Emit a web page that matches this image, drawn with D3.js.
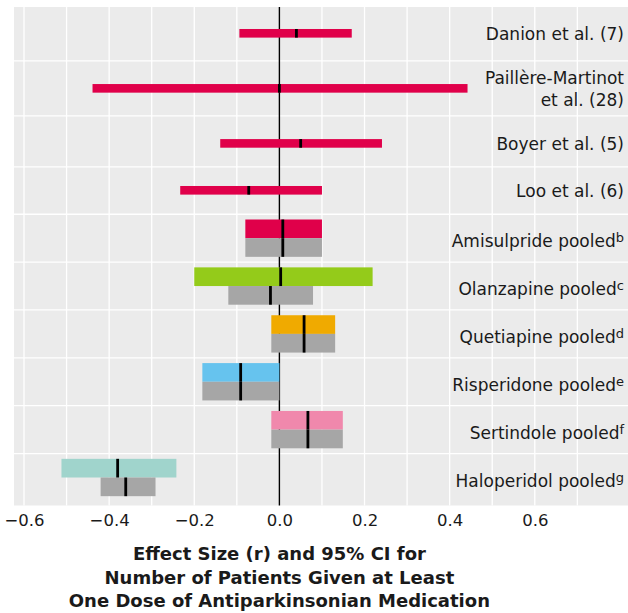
<!DOCTYPE html>
<html lang="en">
<head>
    <meta charset="UTF-8" />
    <title>Antiparkinsonian medication effect sizes</title>
    <script src="https://d3js.org/d3.v7.min.js"></script>
    <style>
        body {
            margin: 0;
            background: #ffffff;
        }

        svg text {
            font-family: "DejaVu Sans", sans-serif;
            fill: #1a1a1a;
        }

        .title text {
            font-weight: bold;
        }
    </style>
</head>
<body>
    <svg id="chart" width="628" height="613"></svg>
    <script>
        // Individual amisulpride studies
        var studyNames = [["Danion et al. (7)"], ["Paillère-Martinot", "et al. (28)"], ["Boyer et al. (5)"], ["Loo et al. (6)"]];
        var studyEffect = [0.040, 0.000, 0.050, -0.072];
        var studyLow = [-0.094, -0.439, -0.139, -0.233];
        var studyHigh = [0.170, 0.442, 0.241, 0.100];

        // Pooled drugs (coloured bar) and their comparison (grey bar)
        var drugNames = ["Amisulpride pooled", "Olanzapine pooled", "Quetiapine pooled", "Risperidone pooled", "Sertindole pooled", "Haloperidol pooled"];
        var drugNotes = ["b", "c", "d", "e", "f", "g"];
        var drugEffect = [0.008, 0.003, 0.058, -0.091, 0.067, -0.380];
        var drugLow = [-0.080, -0.200, -0.019, -0.181, -0.019, -0.512];
        var drugHigh = [0.100, 0.219, 0.131, 0.000, 0.149, -0.242];
        var compEffect = [0.008, -0.021, 0.058, -0.091, 0.067, -0.361];
        var compLow = [-0.080, -0.120, -0.019, -0.181, -0.019, -0.420];
        var compHigh = [0.100, 0.079, 0.131, 0.000, 0.149, -0.291];
        var drugColors = ["#e0004a", "#94cb1a", "#f0aa00", "#66c3ee", "#f088ac", "#a0d4cc"];

        var xTicks = [-0.6, -0.4, -0.2, 0.0, 0.2, 0.4, 0.6];
        var xMinor = [-0.5, -0.3, -0.1, 0.1, 0.3, 0.5, 0.7];
        var titleLines = ["Effect Size (r) and 95% CI for", "Number of Patients Given at Least", "One Dose of Antiparkinsonian Medication"];

        var w = 628;
        var panel = { left: 14, right: 628, top: 7, bottom: 505.5 };

        // rows with two-line labels get a little more room
        var rowGap = [1.15, 1.15, 0.98, 1, 1, 1, 1, 1, 1];
        var rowPos = [0];
        rowGap.forEach(function (g, i) { rowPos.push(rowPos[i] + g); });

        var svg = d3.select("#chart");

        var xScale = d3.scaleLinear()
            .domain([-0.6235, 0.819])
            .range([panel.left, panel.right]);

        var yScale = d3.scaleLinear()
            .domain([0, rowPos[rowPos.length - 1]])
            .range([33.3, 477.5]);

        var unit = yScale(1) - yScale(0);

        // Panel background
        svg.append("rect")
            .attr("x", panel.left)
            .attr("y", panel.top)
            .attr("width", panel.right - panel.left)
            .attr("height", panel.bottom - panel.top)
            .attr("fill", "#ebebeb");

        // Vertical gridlines
        svg.selectAll("line.vgrid")
            .data(xTicks.concat(xMinor))
            .enter()
            .append("line")
            .attr("class", "vgrid")
            .attr("x1", d => xScale(d))
            .attr("x2", d => xScale(d))
            .attr("y1", panel.top)
            .attr("y2", panel.bottom)
            .attr("stroke", "#ffffff")
            .attr("stroke-width", 1.3);

        // Horizontal separators between rows
        svg.selectAll("line.hgrid")
            .data(d3.range(rowPos.length - 1))
            .enter()
            .append("line")
            .attr("class", "hgrid")
            .attr("x1", panel.left)
            .attr("x2", panel.right)
            .attr("y1", i => yScale((rowPos[i] + rowPos[i + 1]) / 2))
            .attr("y2", i => yScale((rowPos[i] + rowPos[i + 1]) / 2))
            .attr("stroke", "#ffffff")
            .attr("stroke-width", 1.3);

        // Zero line
        svg.append("line")
            .attr("x1", xScale(0))
            .attr("x2", xScale(0))
            .attr("y1", panel.top)
            .attr("y2", panel.bottom)
            .attr("stroke", "#000000")
            .attr("stroke-width", 1.4);

        // Study bars
        var studyH = unit * 0.18;
        var studies = svg.selectAll("g.study")
            .data(studyNames)
            .enter()
            .append("g")
            .attr("class", "study");

        studies.append("rect")
            .attr("x", (d, i) => xScale(studyLow[i]))
            .attr("y", (d, i) => yScale(rowPos[i]) - studyH / 2)
            .attr("width", (d, i) => xScale(studyHigh[i]) - xScale(studyLow[i]))
            .attr("height", studyH)
            .attr("fill", drugColors[0]);

        studies.append("rect")
            .attr("x", (d, i) => xScale(studyEffect[i]) - 1.4)
            .attr("y", (d, i) => yScale(rowPos[i]) - studyH / 2)
            .attr("width", 2.8)
            .attr("height", studyH)
            .attr("fill", "#000000");

        // Pooled bars
        var halfH = unit * 0.39;
        var pooled = svg.selectAll("g.pooled")
            .data(drugNames)
            .enter()
            .append("g")
            .attr("class", "pooled");

        pooled.append("rect")
            .attr("x", (d, i) => xScale(drugLow[i]))
            .attr("y", (d, i) => yScale(rowPos[i + 4]) - halfH)
            .attr("width", (d, i) => xScale(drugHigh[i]) - xScale(drugLow[i]))
            .attr("height", halfH)
            .attr("fill", (d, i) => drugColors[i]);

        pooled.append("rect")
            .attr("x", (d, i) => xScale(compLow[i]))
            .attr("y", (d, i) => yScale(rowPos[i + 4]))
            .attr("width", (d, i) => xScale(compHigh[i]) - xScale(compLow[i]))
            .attr("height", halfH)
            .attr("fill", "#a6a6a6");

        pooled.append("rect")
            .attr("x", (d, i) => xScale(drugEffect[i]) - 1.4)
            .attr("y", (d, i) => yScale(rowPos[i + 4]) - halfH)
            .attr("width", 2.8)
            .attr("height", halfH)
            .attr("fill", "#000000");

        pooled.append("rect")
            .attr("x", (d, i) => xScale(compEffect[i]) - 1.4)
            .attr("y", (d, i) => yScale(rowPos[i + 4]))
            .attr("width", 2.8)
            .attr("height", halfH)
            .attr("fill", "#000000");

        // Row labels
        var labelX = 624;
        var studyLabels = svg.selectAll("text.slabel")
            .data(studyNames)
            .enter()
            .append("text")
            .attr("class", "slabel")
            .attr("text-anchor", "end")
            .style("font-size", "17px")
            .attr("y", (d, i) => yScale(rowPos[i]) + 6.5 - (d.length - 1) * 11);

        studyLabels.selectAll("tspan")
            .data(d => d)
            .enter()
            .append("tspan")
            .attr("x", labelX)
            .attr("dy", (d, j) => j === 0 ? 0 : 22)
            .text(d => d);

        var drugLabels = svg.selectAll("text.dlabel")
            .data(drugNames)
            .enter()
            .append("text")
            .attr("class", "dlabel")
            .attr("text-anchor", "end")
            .attr("x", labelX)
            .attr("y", (d, i) => yScale(rowPos[i + 4]) + 9)
            .style("font-size", "17px");

        drugLabels.append("tspan").text(d => d);
        drugLabels.append("tspan")
            .attr("dy", -5)
            .style("font-size", "13px")
            .text((d, i) => drugNotes[i]);

        // x axis
        var xAxis = d3.axisBottom(xScale)
            .tickValues(xTicks)
            .tickSize(0)
            .tickPadding(0)
            .tickFormat(d3.format(".1f"));

        var axisG = svg.append("g")
            .attr("transform", "translate(0," + (panel.bottom + 9) + ")")
            .call(xAxis);
        axisG.select(".domain").remove();
        axisG.selectAll("text")
            .style("font-size", "16.5px")
            .style("font-family", "DejaVu Sans, sans-serif")
            .attr("fill", "#1a1a1a");

        // Axis title
        svg.append("g")
            .attr("class", "title")
            .selectAll("text")
            .data(titleLines)
            .enter()
            .append("text")
            .attr("x", xScale(0))
            .attr("y", (d, i) => 560 + i * 23.5)
            .attr("text-anchor", "middle")
            .style("font-size", "18px")
            .text(d => d);
    </script>
</body>
</html>
